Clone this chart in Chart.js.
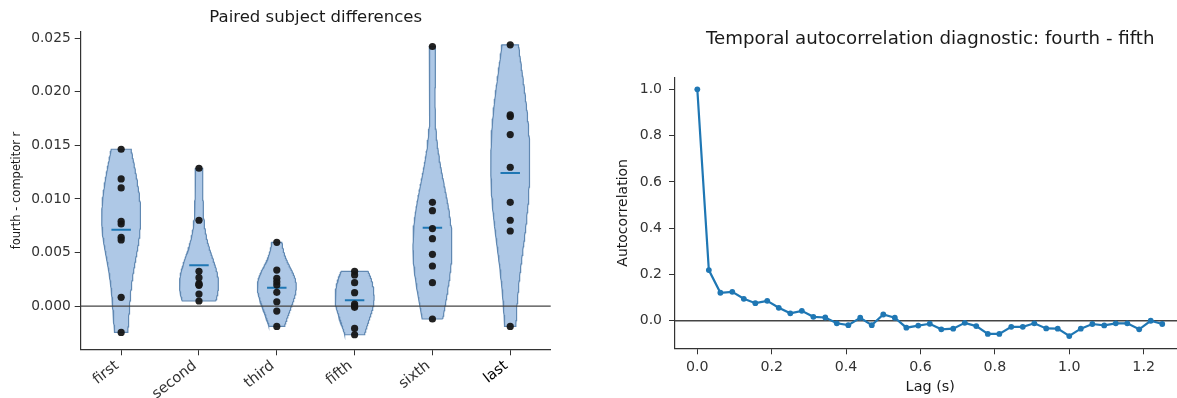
<!DOCTYPE html>
<html>
<head>
<meta charset="utf-8">
<script src="https://cdn.jsdelivr.net/npm/chart.js@4"></script>
<style>
  html, body { margin: 0; padding: 0; background: #fff; overflow: hidden; width: 1177px; height: 398px; }
  #diffWrap { position: absolute; left: 0; top: 0; }
  #acfWrap { position: absolute; left: 590px; top: 0; }
</style>
</head>
<body>
<div id="diffWrap"><canvas id="diffChart" width="580" height="398"></canvas></div>
<div id="acfWrap"><canvas id="acfChart" width="610" height="398"></canvas></div>
<script>
// paired subject differences (fourth - competitor r), one array per competitor
const groupLabels = ['first', 'second', 'third', 'fifth', 'sixth', 'last'];
const diffFirst = [0.01464, 0.01187, 0.01103, 0.00791, 0.00766, 0.00642, 0.00617, 0.00081, -0.00246];
const diffSecond = [0.01287, 0.00801, 0.00324, 0.00265, 0.00209, 0.00200, 0.00193, 0.00112, 0.00047];
const diffThird = [0.00595, 0.00336, 0.00259, 0.00227, 0.00196, 0.00128, 0.00040, -0.00047, -0.00190];
const diffFifth = [0.00324, 0.00290, 0.00218, 0.00125, 0.00019, 0.00000, -0.00012, -0.00209, -0.00268];
const diffSixth = [0.02424, 0.00969, 0.00891, 0.00723, 0.00629, 0.00483, 0.00374, 0.00218, -0.00121];
const diffLast = [0.02439, 0.01785, 0.01770, 0.01601, 0.01296, 0.00969, 0.00801, 0.00701, -0.00190];
const diffYTicks = [0, 0.005, 0.010, 0.015, 0.020, 0.025];

// autocorrelation of fourth - fifth
const lagSec = [0, 0.031, 0.062, 0.094, 0.125, 0.156, 0.188, 0.219, 0.25, 0.281, 0.312,
  0.344, 0.375, 0.406, 0.438, 0.469, 0.5, 0.531, 0.562, 0.594, 0.625, 0.656, 0.688,
  0.719, 0.75, 0.781, 0.812, 0.844, 0.875, 0.906, 0.938, 0.969, 1.0, 1.031, 1.062,
  1.094, 1.125, 1.156, 1.188, 1.219, 1.25];
const acf = [1.0, 0.219, 0.121, 0.125, 0.095, 0.076, 0.086, 0.056, 0.032, 0.043, 0.017,
  0.014, -0.011, -0.019, 0.013, -0.019, 0.027, 0.013, -0.030, -0.021, -0.013, -0.037, -0.034,
  -0.009, -0.023, -0.057, -0.057, -0.026, -0.026, -0.011, -0.033, -0.034, -0.066, -0.034, -0.014,
  -0.020, -0.011, -0.011, -0.037, 0.0, -0.014];
const acfXTicks = [0, 0.2, 0.4, 0.6, 0.8, 1.0, 1.2];
const acfYTicks = [0, 0.2, 0.4, 0.6, 0.8, 1.0];

const groups = [diffFirst, diffSecond, diffThird, diffFifth, diffSixth, diffLast];

Chart.defaults.font.family = "'DejaVu Sans', sans-serif";
Chart.defaults.color = '#262626';

const axisInk = '#333';

// horizontal line at y = 0, drawn just before the dataset of the given type
const zeroLine = {
  id: 'zeroLine',
  beforeDatasetsDraw(chart) { chart.$zeroDone = false; },
  beforeDatasetDraw(chart, args, opts) {
    if (chart.$zeroDone || args.meta.type !== opts.beforeType) return;
    chart.$zeroDone = true;
    const {ctx, chartArea} = chart;
    const y = chart.scales.y.getPixelForValue(0);
    ctx.save();
    ctx.strokeStyle = '#444';
    ctx.lineWidth = 1.3;
    ctx.beginPath();
    ctx.moveTo(chartArea.left, y);
    ctx.lineTo(chartArea.right, y);
    ctx.stroke();
    ctx.restore();
  }
};

// gaussian kde outline (scott bandwidth), clipped to data range, like matplotlib
function violinOutline(values, pos) {
  const n = values.length;
  const mean = values.reduce((a, b) => a + b, 0) / n;
  const variance = values.reduce((a, b) => a + (b - mean) ** 2, 0) / (n - 1);
  const cov = variance * Math.pow(n, -0.4);
  const lo = Math.min(...values), hi = Math.max(...values);
  const ys = [], dens = [];
  for (let i = 0; i < 100; i++) {
    const y = lo + (hi - lo) * i / 99;
    let d = 0;
    values.forEach(v => { d += Math.exp(-((y - v) ** 2) / (2 * cov)); });
    ys.push(y);
    dens.push(d);
  }
  const peak = Math.max(...dens);
  const right = ys.map((y, i) => ({x: pos + 0.25 * dens[i] / peak, y}));
  const left = ys.map((y, i) => ({x: pos - 0.25 * dens[i] / peak, y})).reverse();
  return right.concat(left, [right[0]]);
}

function axisStyle() {
  return {
    grid: { drawOnChartArea: false, drawTicks: true, tickLength: 6, color: axisInk, lineWidth: 1 },
    border: { display: true, color: axisInk, width: 1.2 }
  };
}

function initDiffChart() {
  const datasets = [];

  datasets.push({
    type: 'scatter',
    data: groups.flatMap((vals, i) => vals.map(v => ({x: i, y: v}))),
    pointRadius: 3.6,
    pointBackgroundColor: 'rgba(22,22,22,0.95)',
    pointBorderWidth: 0,
    order: 0
  });

  groups.forEach((vals, i) => {
    const mean = vals.reduce((a, b) => a + b, 0) / vals.length;
    datasets.push({
      type: 'line',
      data: [{x: i - 0.125, y: mean}, {x: i + 0.125, y: mean}],
      borderColor: '#1f77b4',
      borderWidth: 2,
      pointRadius: 0,
      fill: false,
      order: 1
    });
  });

  groups.forEach((vals, i) => {
    datasets.push({
      type: 'line',
      data: violinOutline(vals, i),
      borderColor: '#6088b2',
      borderWidth: 1.2,
      backgroundColor: '#aec8e6',
      fill: 'shape',
      pointRadius: 0,
      tension: 0,
      order: 3
    });
  });

  new Chart(document.getElementById('diffChart'), {
    type: 'scatter',
    data: { datasets },
    plugins: [zeroLine],
    options: {
      responsive: false,
      animation: false,
      layout: { padding: { left: 0, right: 29.3, top: 0, bottom: 0 } },
      plugins: {
        legend: { display: false },
        tooltip: { enabled: false },
        zeroLine: { beforeType: 'scatter' },
        title: {
          display: true,
          text: 'Paired subject differences',
          fullSize: false,
          color: '#1a1a1a',
          font: { size: 16.5, weight: 'normal' },
          padding: { top: 7.6, bottom: 4.3 }
        }
      },
      scales: {
        x: {
          type: 'linear',
          min: -0.52,
          max: 5.52,
          ...axisStyle(),
          afterBuildTicks: axis => { axis.ticks = groupLabels.map((_, i) => ({value: i})); },
          afterFit: axis => { axis.height = 48.7; },
          ticks: {
            autoSkip: false,
            minRotation: 38,
            maxRotation: 38,
            padding: 2,
            labelOffset: -4,
            font: { size: 14.5 },
            color: ctx => groupLabels[ctx.tick.value] === 'last' ? '#000' : '#333',
            callback: v => groupLabels[v]
          }
        },
        y: {
          type: 'linear',
          min: -0.00404,
          max: 0.02562,
          ...axisStyle(),
          afterBuildTicks: axis => { axis.ticks = diffYTicks.map(v => ({value: v})); },
          afterFit: axis => { axis.width = 80.7; },
          title: {
            display: true,
            text: 'fourth - competitor r',
            color: '#1a1a1a',
            font: { size: 11.5 },
            padding: { top: 10 }
          },
          ticks: {
            padding: 4,
            color: '#333',
            font: { size: 13.8 },
            callback: v => v.toFixed(3)
          }
        }
      }
    }
  });
}

function initAcfChart() {
  new Chart(document.getElementById('acfChart'), {
    type: 'line',
    data: {
      datasets: [{
        data: lagSec.map((t, i) => ({x: t, y: acf[i]})),
        borderColor: '#1f77b4',
        backgroundColor: '#1f77b4',
        borderWidth: 2.2,
        pointRadius: 2.9,
        pointBorderWidth: 0,
        tension: 0,
        fill: false
      }]
    },
    plugins: [zeroLine],
    options: {
      responsive: false,
      animation: false,
      layout: { padding: { left: 0, right: 14.5, top: 0, bottom: 0 } },
      plugins: {
        legend: { display: false },
        tooltip: { enabled: false },
        zeroLine: { beforeType: 'line' },
        title: {
          display: true,
          text: 'Temporal autocorrelation diagnostic: fourth - fifth',
          fullSize: false,
          color: '#1a1a1a',
          font: { size: 18.2, weight: 'normal' },
          padding: { top: 28.2, bottom: 27.3 }
        }
      },
      scales: {
        x: {
          type: 'linear',
          min: -0.06,
          max: 1.3125,
          ...axisStyle(),
          afterBuildTicks: axis => { axis.ticks = acfXTicks.map(v => ({value: v})); },
          afterFit: axis => { axis.height = 49.7; },
          title: {
            display: true,
            text: 'Lag (s)',
            color: '#1a1a1a',
            font: { size: 14.4 },
            padding: { top: 0, bottom: 2.3 }
          },
          ticks: {
            padding: 5,
            color: '#333',
            font: { size: 14.2 },
            callback: v => v.toFixed(1)
          }
        },
        y: {
          type: 'linear',
          min: -0.119,
          max: 1.052,
          ...axisStyle(),
          afterBuildTicks: axis => { axis.ticks = acfYTicks.map(v => ({value: v})); },
          afterFit: axis => { axis.width = 85; },
          title: {
            display: true,
            text: 'Autocorrelation',
            color: '#1a1a1a',
            font: { size: 14 },
            padding: { top: 25 }
          },
          ticks: {
            padding: 7,
            color: '#333',
            font: { size: 14 },
            callback: v => v.toFixed(1)
          }
        }
      }
    }
  });
}

window.addEventListener('DOMContentLoaded', () => {
  initDiffChart();
  initAcfChart();
});
</script>
</body>
</html>
